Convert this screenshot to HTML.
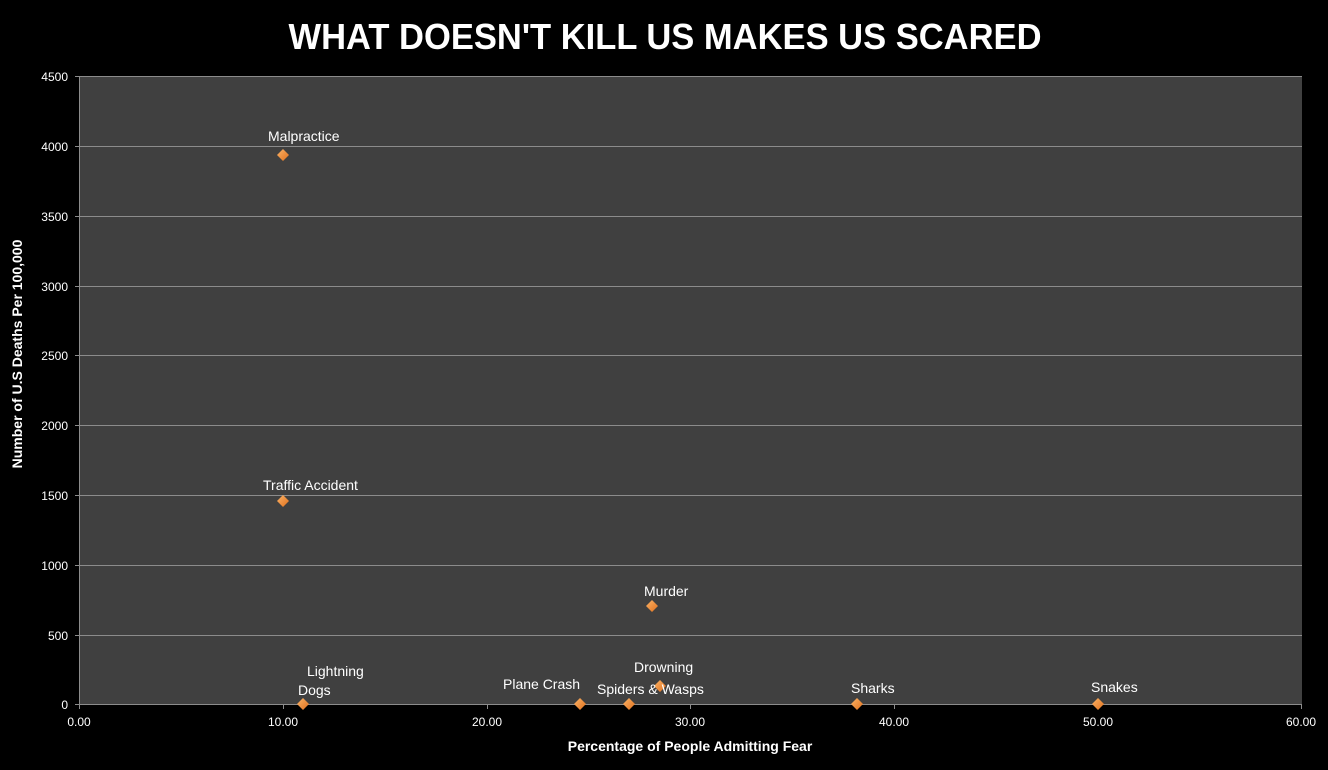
<!DOCTYPE html>
<html><head><style>body{margin:0;background:#000;overflow:hidden;}</style></head><body>
<svg width="1328" height="770" xmlns="http://www.w3.org/2000/svg" font-family="Liberation Sans, sans-serif" style="display:block">
<defs><linearGradient id="g" x1="0" y1="0" x2="1" y2="1"><stop offset="0" stop-color="#fbb468"/><stop offset="1" stop-color="#e0701c"/></linearGradient></defs>
<rect width="1328" height="770" fill="#000"/>
<text x="665" y="49" text-anchor="middle" fill="#fff" font-weight="bold" font-size="36" textLength="753" lengthAdjust="spacingAndGlyphs">WHAT DOESN'T KILL US MAKES US SCARED</text>
<rect x="79" y="76" width="1223" height="628.5" fill="#404040"/>
<g stroke="#8c8c8c" stroke-width="1">
<line x1="79" y1="76.5" x2="1302" y2="76.5"/><line x1="79" y1="146.5" x2="1302" y2="146.5"/><line x1="79" y1="216.5" x2="1302" y2="216.5"/><line x1="79" y1="286.5" x2="1302" y2="286.5"/><line x1="79" y1="355.5" x2="1302" y2="355.5"/><line x1="79" y1="425.5" x2="1302" y2="425.5"/><line x1="79" y1="495.5" x2="1302" y2="495.5"/><line x1="79" y1="565.5" x2="1302" y2="565.5"/><line x1="79" y1="635.5" x2="1302" y2="635.5"/>
<line x1="79.5" y1="76" x2="79.5" y2="709"/><line x1="75" y1="704.5" x2="1302" y2="704.5"/>
<line x1="75" y1="76.5" x2="79" y2="76.5"/><line x1="75" y1="146.5" x2="79" y2="146.5"/><line x1="75" y1="216.5" x2="79" y2="216.5"/><line x1="75" y1="286.5" x2="79" y2="286.5"/><line x1="75" y1="355.5" x2="79" y2="355.5"/><line x1="75" y1="425.5" x2="79" y2="425.5"/><line x1="75" y1="495.5" x2="79" y2="495.5"/><line x1="75" y1="565.5" x2="79" y2="565.5"/><line x1="75" y1="635.5" x2="79" y2="635.5"/>
<line x1="283.5" y1="704" x2="283.5" y2="709"/><line x1="487.5" y1="704" x2="487.5" y2="709"/><line x1="690.5" y1="704" x2="690.5" y2="709"/><line x1="894.5" y1="704" x2="894.5" y2="709"/><line x1="1098.5" y1="704" x2="1098.5" y2="709"/><line x1="1301.5" y1="704" x2="1301.5" y2="709"/>
</g>
<g fill="#fff" font-size="12" text-anchor="end">
<text x="68" y="81">4500</text><text x="68" y="151">4000</text><text x="68" y="221">3500</text><text x="68" y="291">3000</text><text x="68" y="360">2500</text><text x="68" y="430">2000</text><text x="68" y="500">1500</text><text x="68" y="570">1000</text><text x="68" y="640">500</text><text x="68" y="709">0</text>
</g>
<g fill="#fff" font-size="12" text-anchor="middle">
<text x="79" y="726">0.00</text><text x="283" y="726">10.00</text><text x="487" y="726">20.00</text><text x="690" y="726">30.00</text><text x="894" y="726">40.00</text><text x="1098" y="726">50.00</text><text x="1301" y="726">60.00</text>
</g>
<text x="690" y="751" text-anchor="middle" fill="#fff" font-weight="bold" font-size="14">Percentage of People Admitting Fear</text>
<text transform="translate(22,354) rotate(-90)" text-anchor="middle" fill="#fff" font-weight="bold" font-size="14">Number of U.S Deaths Per 100,000</text>
<g fill="url(#g)">
<path d="M283 149l6 6-6 6-6-6z"/><path d="M283 495l6 6-6 6-6-6z"/><path d="M652 600l6 6-6 6-6-6z"/><path d="M303 698l6 6-6 6-6-6z"/><path d="M580 698l6 6-6 6-6-6z"/><path d="M629 698l6 6-6 6-6-6z"/><path d="M660 680l6 6-6 6-6-6z"/><path d="M857 698l6 6-6 6-6-6z"/><path d="M1098 698l6 6-6 6-6-6z"/>
</g>
<g fill="#fff" font-size="14">
<text x="268" y="141">Malpractice</text><text x="263" y="490">Traffic Accident</text><text x="644" y="596">Murder</text><text x="307" y="676">Lightning</text><text x="298" y="695">Dogs</text><text x="503" y="689">Plane Crash</text><text x="597" y="694">Spiders &amp; Wasps</text><text x="634" y="672">Drowning</text><text x="851" y="693">Sharks</text><text x="1091" y="692">Snakes</text>
</g>
</svg>
</body></html>
